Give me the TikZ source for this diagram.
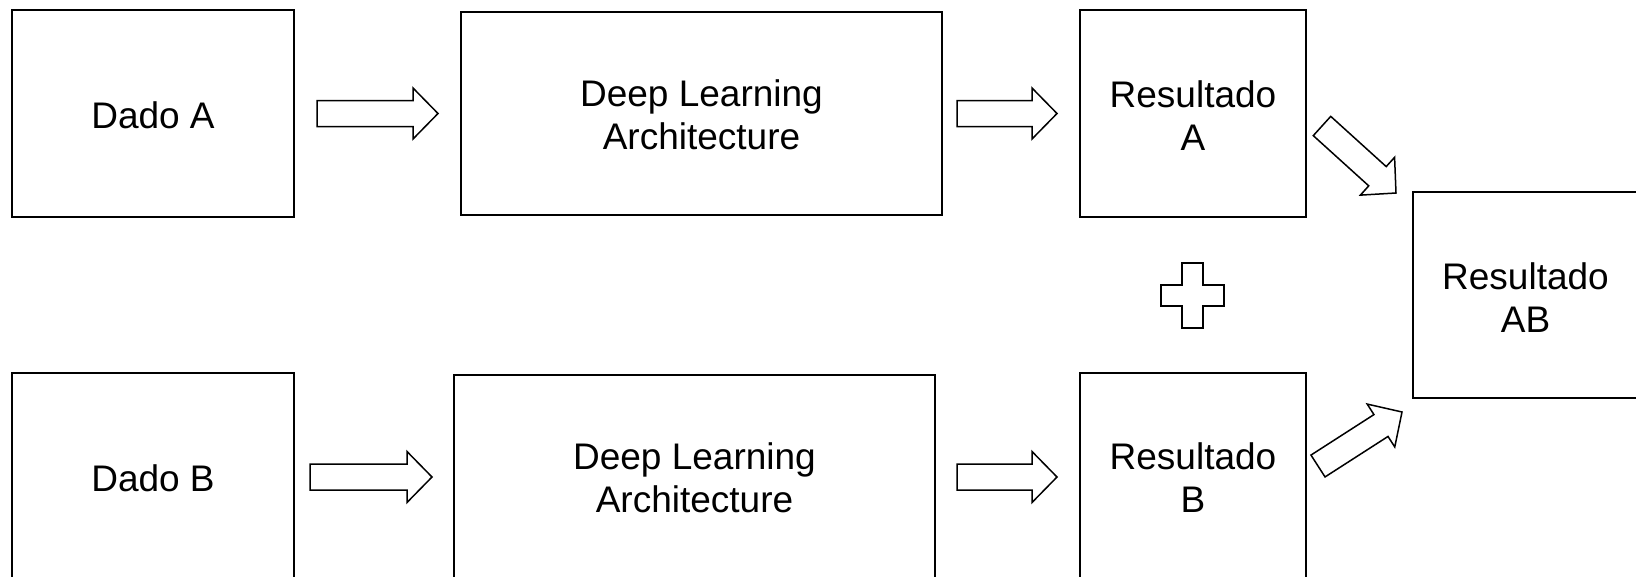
\documentclass[tikz,border=0pt]{standalone}
\usepackage{fontspec}
\setmainfont{Liberation Sans}
\usetikzlibrary{calc}
\tikzset{
  box/.style={draw=black, line width=1.5pt, fill=white, inner sep=0pt, outer sep=0pt},
  txt/.style={inner sep=0pt, align=center, font=\fontsize{37}{43}\selectfont},
  barrow/.style={draw=black, line width=1.5pt, fill=white, line join=miter}
}
% #1 name, #2 centre, #3 width, #4 height, #5 text shift down, #6 text
\newcommand{\boxnode}[6]{%
  \node[box, minimum width=#3, minimum height=#4] (#1) at (#2) {};
  \node[txt] (#1-t) at ($(#1.center)+(0,#5)$) {#6};}
\newcommand{\blockarrow}[2]{%
  \path ($(#2)!25pt!(#1)$) coordinate (hb);
  \draw[barrow] ($(#1)!13pt!90:(#2)$) -- ($(hb)!13pt!-90:(#1)$) -- ($(hb)!25.5pt!-90:(#1)$)
    -- (#2) -- ($(hb)!25.5pt!90:(#1)$) -- ($(hb)!13pt!90:(#1)$) -- ($(#1)!13pt!-90:(#2)$) -- cycle;}
\begin{document}
\begin{tikzpicture}[x=1pt,y=-1pt]
\useasboundingbox (0,0) rectangle (1636,576);
% top row
\boxnode{dadoA}{153,113.5}{282pt}{207pt}{2}{Dado A}
\boxnode{dlA}{701.5,113.25}{481pt}{203pt}{2}{Deep Learning\\Architecture}
\boxnode{resA}{1193,113.5}{226pt}{207pt}{2}{Resultado\\A}
% bottom row (cut by the lower edge)
\boxnode{dadoB}{153,478}{282pt}{210pt}{0}{Dado B}
\boxnode{dlB}{694.5,478}{481pt}{206pt}{0}{Deep Learning\\Architecture}
\boxnode{resB}{1193,478}{226pt}{210pt}{0}{Resultado\\B}
% result AB (cut by the right edge)
\boxnode{resAB}{1525.5,295}{225pt}{206pt}{2.5}{Resultado\\AB}
% connector end points
\coordinate (a1s) at ($(dadoA.east)+(23,0)$);
\coordinate (a1e) at ($(dlA.west)+(-23,0.25)$);
\coordinate (a2s) at ($(dlA.east)+(15,0.25)$);
\coordinate (a2e) at ($(resA.west)+(-23,0)$);
\coordinate (b1s) at ($(dadoB.east)+(16,-1)$);
\coordinate (b1e) at ($(dlB.west)+(-22,-1)$);
\coordinate (b2s) at ($(dlB.east)+(22,-1)$);
\coordinate (b2e) at ($(resB.west)+(-23,-1)$);
\coordinate (das) at ($(resA.east)+(16,12.5)$);
\coordinate (dae) at ($(resAB.north west)+(-17,1)$);
\coordinate (dbs) at ($(resB.east)+(12,-12)$);
\coordinate (dbe) at ($(resAB.south west)+(-11,14)$);
\blockarrow{a1s}{a1e}
\blockarrow{a2s}{a2e}
\blockarrow{b1s}{b1e}
\blockarrow{b2s}{b2e}
\blockarrow{das}{dae}
\blockarrow{dbs}{dbe}
% plus sign
\coordinate (plus) at (1192.5,295.5);
\draw[barrow] ($(plus)+(-10.5,-32.5)$) -- ++(21,0) -- ++(0,22) -- ++(21,0) -- ++(0,21)
  -- ++(-21,0) -- ++(0,22) -- ++(-21,0) -- ++(0,-22) -- ++(-21,0) -- ++(0,-21)
  -- ++(21,0) -- cycle;
\end{tikzpicture}
\end{document}
